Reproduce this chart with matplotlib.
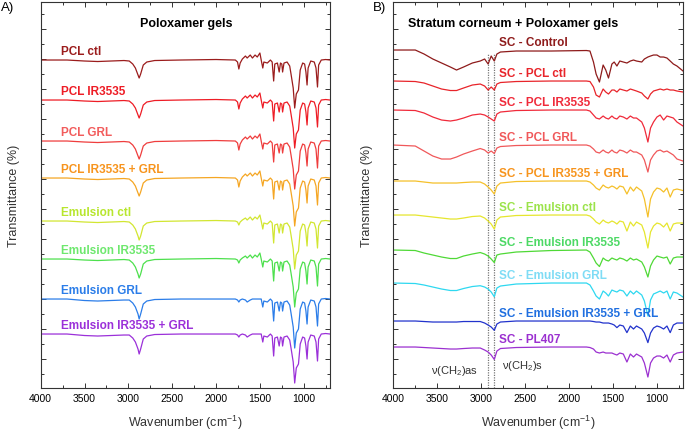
import matplotlib.pyplot as plt
from matplotlib.ticker import MultipleLocator

plt.rcParams['font.family'] = ['Liberation Sans', 'DejaVu Sans']
plt.rcParams['mathtext.fontset'] = 'custom'
plt.rcParams['mathtext.rm'] = 'Liberation Sans'

# --- A) Poloxamer gels: band depth below each trace's baseline ---
a_wn = [4000, 3700, 3500, 3350, 3200, 3050, 2990, 2950, 2920, 2890,
        2877, 2860, 2830, 2790, 2700, 2400, 2000, 1780, 1755, 1740,
        1725, 1700, 1665, 1645, 1610, 1585, 1555, 1530, 1500, 1485,
        1467, 1455, 1415, 1380, 1360, 1343, 1330, 1300, 1280, 1265,
        1250, 1241, 1225, 1190, 1160, 1145, 1120, 1103, 1085, 1060,
        1040, 1012, 990, 975, 962, 950, 920, 880, 860, 843,
        830, 800, 750, 700]
a_pcl = [0, 0, 1, 1.5, 1, 0.5, 1, 4, 8, 15,
         18, 14, 5, 2, 0.5, 0, -0.5, 0, 2, 9,
         3, -1, -4, -2, -5, -2, -5, -3, -7, 0,
         8, 2, 3, 0, 2, 21, 4, 3, 12, 3,
         4, 12, 3, 2, 6, 14, 28, 48, 34, 30,
         10, 3, 4, 12, 25, 8, 1, 2, 8, 27,
         5, 0, -0.5, 0]
a_emulsion = [0, 0, 1, 1.5, 1, 0.5, 1, 4, 8, 15,
              19, 15, 5, 2, 0.5, 0, -0.5, 0, 1, 4,
              1, -1, -3, -1, -4, -1, -4, -2, -6, 0,
              8, 2, 3, 0, 2, 22, 4, 3, 12, 3,
              4, 12, 3, 2, 6, 14, 28, 48, 34, 30,
              10, 3, 4, 12, 25, 8, 1, 2, 8, 27,
              5, 0, -0.5, 0]
a_emulsion_grl = [0, 0, 1.5, 2, 1.5, 1, 1, 4, 8, 15,
                  20, 15, 5, 2, 0.5, 0, 0, 0, 1, 3,
                  1, 0, 1, 3, 1, 0, 0, 0, 0, 0,
                  8, 2, 3, 0, 2, 22, 4, 3, 12, 3,
                  4, 12, 3, 2, 6, 14, 28, 49, 34, 30,
                  10, 3, 4, 12, 25, 8, 1, 2, 8, 27,
                  5, 0, -0.5, 0]

a_names = ['PCL ctl', 'PCL IR3535', 'PCL GRL', 'PCL IR3535 + GRL',
           'Emulsion ctl', 'Emulsion IR3535', 'Emulsion GRL', 'Emulsion IR3535 + GRL']
a_levels = [329, 289, 248, 211, 168, 130, 90, 55]
a_shapes = [a_pcl, a_pcl, a_pcl, a_pcl, a_emulsion, a_emulsion, a_emulsion_grl, a_emulsion_grl]
a_colors = ['#9b1c1c', '#ee1c25', '#ef3d3d', '#f5a623', '#d2e631', '#4de04d', '#2b7de9', '#9b30d9']
a_label_colors = ['#9b1c1c', '#ee1c25', '#f25c5c', '#f7941d', '#b8e62e', '#6ee86e', '#2b7de9', '#9b30d9']

# --- B) Stratum corneum + Poloxamer gels ---
b_wn = [4000, 3750, 3650, 3550, 3450, 3350, 3280, 3200, 3100, 3010,
        2960, 2920, 2885, 2850, 2820, 2780, 2600, 2200, 1800, 1760,
        1720, 1690, 1652, 1610, 1580, 1549, 1510, 1484, 1453, 1420,
        1380, 1339, 1300, 1264, 1230, 1170, 1140, 1100, 1070, 1036,
        997, 960, 921, 883, 846, 810, 769, 700]
b_control = [0, 0, 4, 9, 13, 17, 20, 17, 13, 11,
             9, 14, 6, 11, 4, 2, 1, 1, 0.5, 1,
             12, 24, 32, 15, 20, 28, 14, 12, 16, 11,
             12, 13, 11, 10, 11, 12, 9, 7, 6, 5,
             5, 7, 7, 8, 11, 14, 16, 21]
b_pcl_ctl = [0, 0.5, 2, 5, 8, 9.5, 9.5, 7, 4, 3,
             5, 9, 6, 9, 3, 1.5, 0.5, 0, 0, 0.5,
             6, 14, 16, 8, 11, 13, 9, 9, 11, 8,
             9, 10, 8, 9, 10, 12, 15, 18, 13, 10,
             9, 8, 9, 8, 9, 9, 10, 11]
b_pcl_ir = [0, 0.5, 3, 7, 10, 11, 10, 8, 5, 4,
            5, 7, 9, 11, 4, 2, 0.5, 0, 0, 1,
            5, 8, 9, 6, 8, 9, 6, 8, 9, 6,
            7, 9, 6, 8, 8, 12, 18, 32, 18, 12,
            7, 5, 10, 6, 7, 8, 12, 16]
b_pcl_grl = [0, 1, 6, 11, 14, 14, 12, 9, 6, 3.5,
             5, 8, 6, 8.5, 3, 1.5, 0.5, 0, 0, 1,
             4, 7, 8, 5, 7, 8, 5, 7, 8, 5,
             6, 8, 5, 7, 7, 10, 15, 27, 15, 10,
             6, 5, 7, 6, 8, 10, 14, 16]
b_pcl_ir_grl = [0, 0, 1, 2, 2, 2, 2, 1.5, 1, 1,
                3, 6, 9, 13, 5, 2, 0.5, 0, 0, 1,
                4, 7, 9, 4, 6, 7, 5, 6, 8, 5,
                6, 13, 6, 10, 6, 10, 18, 36, 18, 11,
                7, 8, 11, 7, 16, 9, 8, 9.5]
b_emu_ctl = [0, 0, 1, 2, 3, 4, 4, 3, 1.5, 1,
             3, 6, 9, 14, 5, 2, 0.5, 0, 0, 1,
             4, 7, 9, 5, 7, 8, 6, 7, 9, 6,
             7, 16, 7, 11, 7, 10, 17, 33, 17, 11,
             8, 9, 12, 8, 16, 9, 8, 8]
b_emu_ir = [0, 0.5, 3, 5, 7, 8.5, 8.5, 6, 4, 2.5,
            4, 6, 9, 12.5, 5, 4, 2, 0.5, 0, 2,
            8, 13, 16.5, 8, 10, 11, 8, 9, 10, 8,
            9, 11, 8, 10, 9, 12, 17, 27, 16, 10,
            6, 7, 8, 7, 14, 8, 7, 7]
b_emu_grl = [0, 0.5, 2, 4, 6, 7.5, 7.5, 5.5, 3.5, 2.7,
             4, 6, 9, 13.7, 5, 3, 1, 0, 0, 2,
             8, 13, 16, 8, 10, 13, 7, 8, 9, 7,
             8, 13, 8, 11, 8, 12, 18, 33, 17, 11,
             9.5, 8, 10, 8, 16, 9, 10, 14]
b_emu_ir_grl = [0, 0, 0.5, 1, 1, 1, 1, 0.5, 0.5, 0.5,
                2, 4, 6, 9.3, 3, 1, 0, 0, 0, 0,
                0.5, 1, 1, 2, 2, 2, 3, 4, 6.6, 4,
                5, 11.6, 5, 8, 5, 8, 12, 21.6, 12, 7,
                5, 6, 8, 5, 11.6, 4, 2, 2]
b_pl407 = [0, 0, 0.5, 1, 1.5, 2, 2, 1.5, 1, 1,
           3, 5, 8, 12.4, 4, 1.5, 0.5, 0, 0, 0.5,
           2, 5, 6, 5, 6, 6, 6, 7, 8, 6,
           7, 15, 7, 10, 7, 10, 16, 30, 16, 11,
           9, 9, 11, 8, 15, 8, 6, 5]

b_names = ['SC - Control', 'SC - PCL ctl', 'SC - PCL IR3535', 'SC - PCL GRL',
           'SC - PCL IR3535 + GRL', 'SC - Emulsion ctl', 'SC - Emulsion IR3535',
           'SC - Emulsion GRL', 'SC - Emulsion IR3535 + GRL', 'SC - PL407']
b_levels = [339, 308, 279, 244, 208, 174, 139, 106, 68, 42]
b_shapes = [b_control, b_pcl_ctl, b_pcl_ir, b_pcl_grl, b_pcl_ir_grl,
            b_emu_ctl, b_emu_ir, b_emu_grl, b_emu_ir_grl, b_pl407]
b_colors = ['#8e1b1b', '#e8242a', '#f02a3a', '#f0585a', '#f5c02a',
            '#e6e62e', '#4fd936', '#2ed8f0', '#2233cc', '#9b30d0']
b_label_colors = ['#8e1b1b', '#e8242a', '#f02a3a', '#f0585a', '#f7941d',
                  '#9be34a', '#4cd964', '#7fdcf5', '#1f6fe0', '#9b30d0']
b_bands = [2920, 2850]


def style_axes(ax, title, title_x):
    ax.set_xlim(4000, 700)
    ax.set_ylim(1, 387)
    ax.xaxis.set_major_locator(MultipleLocator(500))
    ax.xaxis.set_minor_locator(MultipleLocator(250))
    ax.yaxis.set_major_locator(MultipleLocator(30))
    ax.yaxis.set_minor_locator(MultipleLocator(15))
    ax.tick_params(which='both', direction='in', top=True, right=True,
                   labelleft=False, labelsize=7.5, color='#333333', width=0.7)
    ax.tick_params(which='major', length=3.5)
    ax.tick_params(which='minor', length=2)
    for s in ax.spines.values():
        s.set_color('#333333')
        s.set_linewidth(0.8)
    ax.set_xlabel('Wavenumber (cm$^{-1}$)', fontsize=9, color='#333333')
    ax.set_ylabel('Transmittance (%)', fontsize=9, color='#333333')
    ax.xaxis.set_label_coords(0.5, -0.065)
    ax.yaxis.set_label_coords(-0.07, 0.5)
    ax.text(title_x, 366, title, fontsize=9, fontweight='bold', ha='center', va='center')


def draw_stack(ax, wn, names, levels, shapes, colors, label_colors, label_x, label_dy):
    for name, level, shape, c, lc in zip(names, levels, shapes, colors, label_colors):
        ax.plot(wn, [level - d for d in shape], color=c, lw=0.9)
        ax.text(label_x, level + label_dy, name, color=lc, fontsize=8.5,
                fontweight='bold', va='center')


fig = plt.figure(figsize=(6.85, 4.31), dpi=100)
ax_a = fig.add_axes([0.0594, 0.0974, 0.4224, 0.8956])
ax_b = fig.add_axes([0.5742, 0.0974, 0.4229, 0.8956])

draw_stack(ax_a, a_wn, a_names, a_levels, a_shapes, a_colors, a_label_colors, 3769, 9)
style_axes(ax_a, 'Poloxamer gels', 2345)

for b in b_bands:
    ax_b.axvline(b, ymin=0, ymax=0.865, color='#777777', ls=(0, (1, 1)), lw=0.9)
draw_stack(ax_b, b_wn, b_names, b_levels, b_shapes, b_colors, b_label_colors, 2795, 8)
style_axes(ax_b, 'Stratum corneum + Poloxamer gels', 2636)
ax_b.text(3297, 19, 'ν(CH$_2$)as', fontsize=8, color='#333333', ha='center', va='center')
ax_b.text(2762, 24, 'ν(CH$_2$)s', fontsize=8, color='#333333', ha='left', va='center')

fig.text(0.002, 1 - 8 / 431, 'A)', fontsize=9.5, va='center')
fig.text(373 / 685, 1 - 8 / 431, 'B)', fontsize=9.5, va='center')

fig.savefig('out.png', dpi=100)
